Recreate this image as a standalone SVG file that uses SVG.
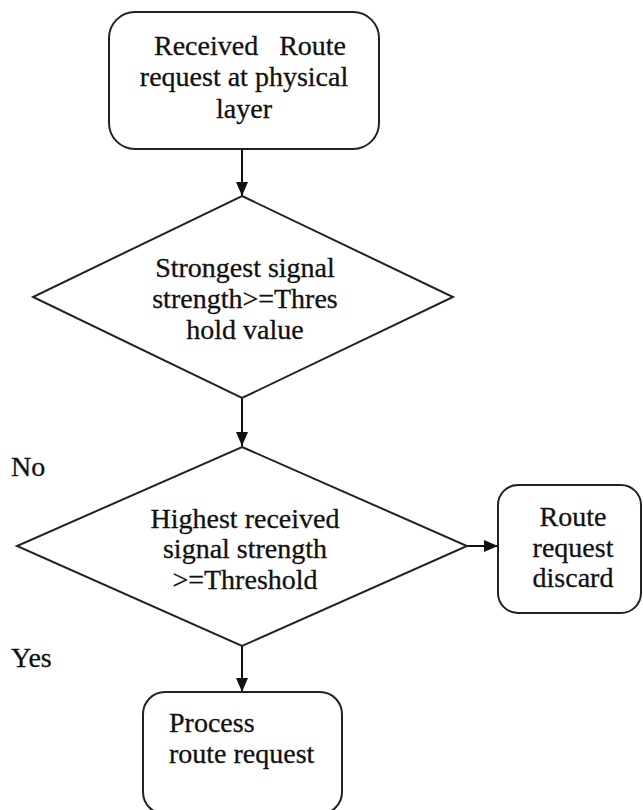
<svg xmlns="http://www.w3.org/2000/svg" width="643" height="810" viewBox="0 0 643 810">
<style>
.shape{fill:#fff;stroke:#222;stroke-width:2}
.conn{stroke:#111;stroke-width:2;fill:none}
text{font-family:"Liberation Serif","Times New Roman",serif;font-size:28px;fill:#111;stroke:#111;stroke-width:0.3}
.c{text-anchor:middle}
</style>
<defs>
<marker id="arr" viewBox="0 0 14 12" refX="14" refY="6" markerWidth="14" markerHeight="12" markerUnits="userSpaceOnUse" orient="auto">
<path d="M0,0 L14,6 L0,12 Z" fill="#111"/>
</marker>
</defs>
<rect width="643" height="810" fill="#fff"/>
<g id="connectors">
<line class="conn" x1="242" y1="149" x2="242" y2="196" marker-end="url(#arr)"/>
<line class="conn" x1="242" y1="398" x2="242" y2="446" marker-end="url(#arr)"/>
<line class="conn" x1="242" y1="646" x2="242" y2="692" marker-end="url(#arr)"/>
<line class="conn" x1="467" y1="546" x2="498" y2="546" marker-end="url(#arr)"/>
</g>
<g id="start">
<rect class="shape" x="109" y="12" width="270" height="137" rx="26" ry="26"/>
<text class="c" x="250" y="55" xml:space="preserve">Received   Route</text>
<text class="c" x="244" y="86">request at physical</text>
<text class="c" x="244" y="118">layer</text>
</g>
<g id="decision1">
<polygon class="shape" points="242,196 453,297 242,398 33,297"/>
<text class="c" x="245" y="277">Strongest signal</text>
<text class="c" x="245" y="308">strength&gt;=Thres</text>
<text class="c" x="245" y="339">hold value</text>
</g>
<g id="decision2">
<polygon class="shape" points="242,447 467,546 242,646 17,546"/>
<text class="c" x="245" y="528">Highest received</text>
<text class="c" x="245" y="558">signal strength</text>
<text class="c" x="245" y="589">&gt;=Threshold</text>
</g>
<g id="discard">
<rect class="shape" x="498" y="485" width="143" height="128" rx="20" ry="20"/>
<text class="c" x="573" y="526">Route</text>
<text class="c" x="573" y="557">request</text>
<text class="c" x="573" y="587">discard</text>
</g>
<g id="process">
<rect class="shape" x="143" y="692" width="199" height="122" rx="22" ry="22"/>
<text x="169" y="732">Process</text>
<text x="169" y="763">route request</text>
</g>
<g id="labels">
<text x="11" y="476">No</text>
<text x="11" y="667">Yes</text>
</g>
</svg>
